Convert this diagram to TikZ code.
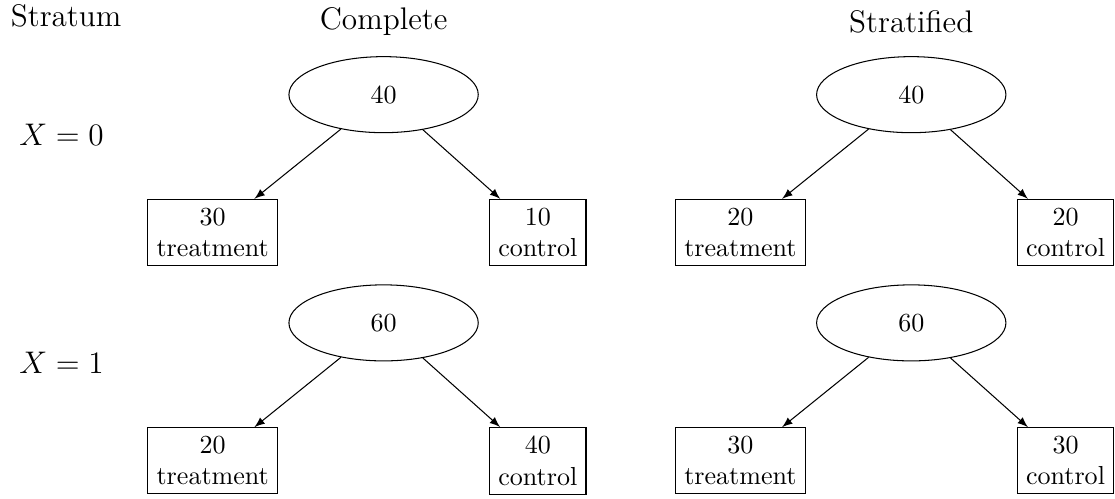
\documentclass[tikz,border=0pt]{standalone}
\usepackage{amsmath}
\usepackage{tikz}
\usetikzlibrary{matrix,positioning,arrows,calc,shapes}
\newcommand{\armcell}[2]{\vbox{\halign{\hfil##\hfil\cr #1\cr #2\cr}}}

\begin{document}
\begin{tikzpicture}[>=latex,
  pool/.style={ellipse, draw, minimum width=72.7pt, minimum height=29.2pt},
  armbox/.style={rectangle, draw},
  heading/.style={font=\large}]
\matrix (m) [matrix of nodes, row sep=7pt, column sep=4pt, nodes={anchor=center}]
{ & |[heading]| Complete & &[30pt] & |[heading]| Stratified & \\[-2.5pt]
  & |[pool]| 40 & & & |[pool]| 40 & \\[18.2pt]
  |[armbox]| \armcell{30}{treatment} & & |[armbox]| \armcell{10}{control} &
  |[armbox]| \armcell{20}{treatment} & & |[armbox]| \armcell{20}{control} \\
  & |[pool]| 60 & & & |[pool]| 60 & \\[18.2pt]
  |[armbox]| \armcell{20}{treatment} & & |[armbox]| \armcell{40}{control} &
  |[armbox]| \armcell{30}{treatment} & & |[armbox]| \armcell{30}{control} \\ };
\node[heading] (stratum) at ($(m-1-2)+(-121.9pt,2.3pt)$) {Stratum};
\node[heading] (xzero) at ($(m-2-2)+(-123.7pt,-15.3pt)$) {$X = 0$};
\node[heading] (xone) at ($(m-4-2)+(-123.7pt,-15.3pt)$) {$X = 1$};
\path[->]
(m-2-2) edge (m-3-1)
        edge (m-3-3);
\path[->]
(m-2-5) edge (m-3-4)
        edge (m-3-6);
\path[->]
(m-4-2) edge (m-5-1)
        edge (m-5-3);
\path[->]
(m-4-5) edge (m-5-4)
        edge (m-5-6);
\pgfresetboundingbox
\useasboundingbox ($(m-2-2)+(-147.3pt,36.35pt)$) rectangle ($(m-5-6.south east)+(0.3pt,-1.5pt)$);
\end{tikzpicture}
\end{document}
